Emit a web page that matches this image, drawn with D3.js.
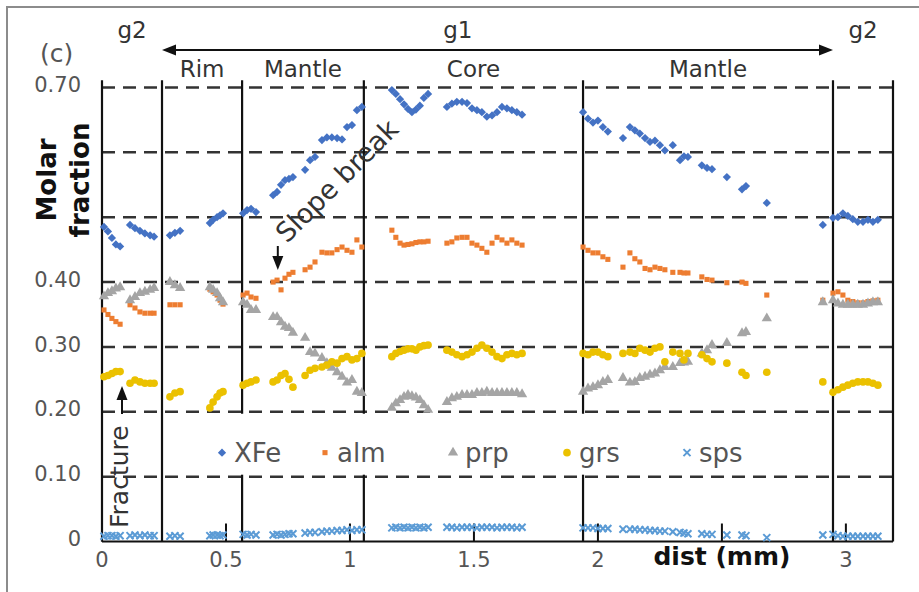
<!DOCTYPE html>
<html>
<head>
<meta charset="utf-8">
<script src="https://cdn.jsdelivr.net/npm/d3@7"></script>
<style>
body { margin: 0; background: #fff; }
text { font-family: "DejaVu Sans", sans-serif; }
</style>
</head>
<body>
<div id="chart"></div>
<script>
// ---- data (distance in mm, molar fractions) ----
var dist = [0.008, 0.024, 0.040, 0.056, 0.073, 0.113, 0.133, 0.153, 0.173, 0.194, 0.210,
    0.274, 0.294, 0.315, 0.435, 0.448, 0.464, 0.476, 0.488,
    0.569, 0.585, 0.601, 0.621,
    0.690, 0.706, 0.722, 0.738, 0.754, 0.770,
    0.819, 0.839, 0.859, 0.887, 0.907, 0.927, 0.948, 0.968, 0.988, 1.008, 1.028, 1.048,
    1.169, 1.185, 1.202, 1.218, 1.234, 1.250, 1.266, 1.282, 1.298, 1.315,
    1.391, 1.411, 1.431, 1.452, 1.472, 1.492, 1.512, 1.532, 1.552, 1.573, 1.593, 1.613, 1.633, 1.653, 1.673, 1.694,
    1.940, 1.960, 1.980, 2.000, 2.020, 2.040, 2.101, 2.129, 2.149, 2.169, 2.190, 2.210, 2.230, 2.250, 2.270, 2.302, 2.331, 2.347, 2.363, 2.419, 2.440, 2.460, 2.520, 2.581, 2.597, 2.681,
    2.907, 2.948, 2.968, 2.988, 3.008, 3.028, 3.048, 3.069, 3.089, 3.109, 3.129];

var xfe = [0.485, 0.478, 0.468, 0.458, 0.455, 0.488, 0.483, 0.479, 0.475, 0.472, 0.470,
    0.472, 0.476, 0.479, 0.491, 0.496, 0.500, 0.503, 0.506,
    0.506, 0.511, 0.513, 0.508,
    0.534, 0.539, 0.550, 0.557, 0.559, 0.562,
    0.573, 0.588, 0.593, 0.619, 0.623, 0.623, 0.622, 0.620, 0.639, 0.642, 0.665, 0.670,
    0.696, 0.690, 0.682, 0.674, 0.667, 0.662, 0.666, 0.672, 0.684, 0.690,
    0.670, 0.675, 0.678, 0.678, 0.676, 0.668, 0.665, 0.662, 0.655, 0.657, 0.662, 0.670, 0.668, 0.665, 0.662, 0.658,
    0.662, 0.652, 0.646, 0.649, 0.639, 0.632, 0.622, 0.639, 0.634, 0.629, 0.622, 0.616, 0.618, 0.611, 0.603, 0.611, 0.588, 0.594, 0.593, 0.580, 0.576, 0.574, 0.562, 0.543, 0.548, 0.522,
    0.488, 0.499, 0.500, 0.506, 0.502, 0.497, 0.493, 0.493, 0.496, 0.493, 0.496];

var alm = [0.357, 0.350, 0.344, 0.339, 0.335, 0.365, 0.360, 0.354, 0.352, 0.352, 0.352,
    0.365, 0.365, 0.365, 0.389, 0.385, 0.380, 0.372, 0.366,
    0.380, 0.383, 0.377, 0.375,
    0.400, 0.403, 0.388, 0.406, 0.412, 0.415,
    0.419, 0.423, 0.431, 0.446, 0.445, 0.445, 0.450, 0.454, 0.449, 0.446, 0.465, 0.454,
    0.480, 0.469, 0.460, 0.457, 0.458, 0.459, 0.461, 0.462, 0.462, 0.463,
    0.460, 0.462, 0.468, 0.469, 0.469, 0.460, 0.457, 0.452, 0.446, 0.460, 0.469, 0.465, 0.460, 0.465, 0.460, 0.457,
    0.454, 0.449, 0.445, 0.445, 0.439, 0.435, 0.423, 0.445, 0.436, 0.431, 0.421, 0.419, 0.423, 0.421, 0.419, 0.415, 0.415, 0.414, 0.414, 0.408, 0.404, 0.403, 0.399, 0.400, 0.398, 0.380,
    0.372, 0.383, 0.385, 0.380, 0.372, 0.370, 0.368, 0.368, 0.370, 0.371, 0.372];

var prp = [0.378, 0.383, 0.386, 0.390, 0.392, 0.372, 0.377, 0.383, 0.385, 0.388, 0.391,
    0.400, 0.395, 0.391, 0.392, 0.388, 0.383, 0.375, 0.369,
    0.369, 0.365, 0.357, 0.357,
    0.346, 0.346, 0.338, 0.331, 0.329, 0.322,
    0.314, 0.292, 0.290, 0.283, 0.275, 0.268, 0.261, 0.254, 0.245, 0.249, 0.231, 0.229,
    0.206, 0.213, 0.218, 0.223, 0.226, 0.224, 0.222, 0.218, 0.210, 0.203,
    0.215, 0.221, 0.223, 0.226, 0.226, 0.226, 0.229, 0.229, 0.231, 0.229, 0.229, 0.229, 0.229, 0.229, 0.229, 0.227,
    0.231, 0.236, 0.238, 0.241, 0.246, 0.249, 0.252, 0.245, 0.246, 0.252, 0.254, 0.257, 0.259, 0.264, 0.269, 0.269, 0.275, 0.276, 0.277, 0.290, 0.295, 0.303, 0.306, 0.321, 0.323, 0.344,
    0.369, 0.372, 0.367, 0.365, 0.365, 0.365, 0.365, 0.365, 0.367, 0.369, 0.369];

var grs = [0.254, 0.256, 0.259, 0.262, 0.262, 0.244, 0.249, 0.246, 0.244, 0.244, 0.244,
    0.223, 0.229, 0.231, 0.206, 0.215, 0.223, 0.229, 0.231,
    0.241, 0.244, 0.246, 0.249,
    0.246, 0.249, 0.256, 0.259, 0.250, 0.238,
    0.256, 0.264, 0.267, 0.269, 0.272, 0.277, 0.275, 0.282, 0.285, 0.280, 0.282, 0.290,
    0.285, 0.290, 0.293, 0.295, 0.297, 0.297, 0.295, 0.300, 0.302, 0.303,
    0.295, 0.292, 0.288, 0.285, 0.288, 0.292, 0.298, 0.303, 0.298, 0.292, 0.285, 0.282, 0.288, 0.290, 0.288, 0.290,
    0.290, 0.288, 0.292, 0.292, 0.288, 0.285, 0.290, 0.292, 0.290, 0.298, 0.295, 0.292, 0.298, 0.300, 0.277, 0.292, 0.290, 0.280, 0.290, 0.288, 0.282, 0.277, 0.275, 0.261, 0.256, 0.261,
    0.246, 0.230, 0.234, 0.238, 0.241, 0.244, 0.246, 0.246, 0.246, 0.244, 0.241];

var sps = [0.008, 0.009, 0.009, 0.008, 0.009, 0.009, 0.010, 0.009, 0.010, 0.009, 0.009,
    0.008, 0.009, 0.008, 0.009, 0.010, 0.010, 0.009, 0.010,
    0.011, 0.010, 0.011, 0.010,
    0.010, 0.011, 0.010, 0.011, 0.012, 0.012,
    0.013, 0.014, 0.014, 0.015, 0.016, 0.016, 0.017, 0.017, 0.018, 0.017, 0.018, 0.018,
    0.021, 0.022, 0.021, 0.022, 0.021, 0.022, 0.021, 0.022, 0.021, 0.022,
    0.022, 0.022, 0.021, 0.022, 0.022, 0.022, 0.021, 0.022, 0.022, 0.022, 0.021, 0.022, 0.022, 0.022, 0.021, 0.022,
    0.021, 0.021, 0.021, 0.020, 0.020, 0.020, 0.019, 0.019, 0.019, 0.018, 0.018, 0.017, 0.017, 0.016, 0.016, 0.015, 0.014, 0.013, 0.012, 0.012, 0.011, 0.011, 0.010, 0.010, 0.009, 0.006,
    0.010, 0.011, 0.009, 0.008, 0.008, 0.008, 0.008, 0.008, 0.008, 0.008, 0.008];

// zone boundaries (mm) and labels
var boundaries = [0.242, 0.565, 1.056, 1.940, 2.948, 3.19];
var zones = ["Rim", "Mantle", "Core", "Mantle"];
var yTickValues = [0.1, 0.2, 0.3, 0.4, 0.5, 0.6, 0.7];
var yTickLabels = [0, 0.1, 0.2, 0.3, 0.4, 0.7];
var xTickValues = [0, 0.5, 1, 1.5, 2, 2.5, 3];
var xTickLabels = [0, 0.5, 1, 1.5, 2, 3];

var svg = d3.select("#chart").append("svg")
    .attr("width", 919).attr("height", 592);

// figure frame (top + left only)
svg.append("path")
    .attr("d", "M7,592V7H919")
    .attr("fill", "none").attr("stroke", "#8c8c8c").attr("stroke-width", 2);

var x = d3.scaleLinear().domain([0, 3.19]).range([102, 893]);
var y = d3.scaleLinear().domain([0, 0.7]).range([541.5, 87.5]);
var yTop = y(0.711);

// dashed grid
svg.append("g").selectAll("line")
    .data(yTickValues)
    .enter().append("line")
    .attr("x1", x(0)).attr("x2", x(3.19))
    .attr("y1", function(d) { return y(d); })
    .attr("y2", function(d) { return y(d); })
    .attr("stroke", "#333").attr("stroke-width", 2.5)
    .attr("stroke-dasharray", "13,8");

// zone boundaries
svg.append("g").selectAll("line")
    .data(boundaries)
    .enter().append("line")
    .attr("x1", function(d) { return x(d); })
    .attr("x2", function(d) { return x(d); })
    .attr("y1", y(0)).attr("y2", yTop)
    .attr("stroke", "#111").attr("stroke-width", 2.2);

// axes lines
svg.append("line")
    .attr("x1", x(0)).attr("x2", x(0)).attr("y1", y(0)).attr("y2", yTop)
    .attr("stroke", "#111").attr("stroke-width", 2.2);
svg.append("line")
    .attr("x1", x(0)).attr("x2", x(3.19)).attr("y1", y(0)).attr("y2", y(0))
    .attr("stroke", "#111").attr("stroke-width", 2.2);

svg.append("g").selectAll("line")
    .data(xTickValues)
    .enter().append("line")
    .attr("x1", function(d) { return x(d); })
    .attr("x2", function(d) { return x(d); })
    .attr("y1", y(0)).attr("y2", y(0) - 18)
    .attr("stroke", "#111").attr("stroke-width", 2);

// tick labels
svg.append("g").selectAll("text")
    .data(yTickLabels)
    .enter().append("text")
    .attr("x", 81)
    .attr("y", function(d) { return y(d); })
    .attr("dy", "0.22em")
    .attr("text-anchor", "end")
    .attr("font-size", 21)
    .attr("fill", "#555")
    .text(function(d) { return d === 0 ? "0" : d.toFixed(2); });

svg.append("g").selectAll("text")
    .data(xTickLabels)
    .enter().append("text")
    .attr("x", function(d) { return x(d); })
    .attr("y", 567)
    .attr("text-anchor", "middle")
    .attr("font-size", 21)
    .attr("fill", "#555")
    .text(function(d) { return d; });

svg.append("text")
    .attr("x", x(2.5)).attr("y", 565)
    .attr("text-anchor", "middle")
    .attr("font-size", 25).attr("font-weight", "bold")
    .attr("fill", "#111")
    .text("dist (mm)");

svg.append("text")
    .attr("transform", "translate(56,180) rotate(-90)")
    .attr("text-anchor", "middle")
    .attr("font-size", 26).attr("font-weight", "bold")
    .attr("fill", "#111")
    .text("Molar");
svg.append("text")
    .attr("transform", "translate(89,180) rotate(-90)")
    .attr("text-anchor", "middle")
    .attr("font-size", 26).attr("font-weight", "bold")
    .attr("fill", "#111")
    .text("fraction");

// legend box (white, hides the boundary lines)
svg.append("rect")
    .attr("x", 172).attr("y", y(0.197))
    .attr("width", 650).attr("height", y(0.103) - y(0.197))
    .attr("fill", "#fff");

// series
var series = [
    {name: "XFe", values: xfe, color: "#4472C4", type: "diamond", lx: 222},
    {name: "alm", values: alm, color: "#ED7D31", type: "square", lx: 325},
    {name: "prp", values: prp, color: "#A5A5A5", type: "triangle", lx: 453},
    {name: "grs", values: grs, color: "#EBC100", type: "circle", lx: 567},
    {name: "sps", values: sps, color: "#5B9BD5", type: "times", lx: 687}
];

function symbolPath(type) {
    if (type === "diamond") return d3.symbol(d3.symbolSquare, 34)();
    if (type === "square") return d3.symbol(d3.symbolSquare, 26)();
    if (type === "triangle") return d3.symbol(d3.symbolTriangle, 46)();
    if (type === "circle") return d3.symbol(d3.symbolCircle, 46)();
    return d3.symbol(d3.symbolTimes, 34)();
}

function markerAttrs(sel, s) {
    sel.attr("d", symbolPath(s.type));
    if (s.type === "times") {
        sel.attr("fill", "none").attr("stroke", s.color).attr("stroke-width", 2);
    } else {
        sel.attr("fill", s.color);
    }
}

series.forEach(function(s) {
    var pts = svg.append("g").attr("class", "series")
        .selectAll("path")
        .data(dist.map(function(d, i) { return {x: d, y: s.values[i]}; }))
        .enter().append("path")
        .attr("transform", function(d) {
            return "translate(" + x(d.x) + "," + y(d.y) + ")" + (s.type === "diamond" ? " rotate(45)" : "");
        });
    markerAttrs(pts, s);
});

// legend entries
var legend = svg.selectAll(".legend")
    .data(series)
    .enter().append("g")
    .attr("class", "legend")
    .attr("transform", function(d) { return "translate(" + d.lx + "," + y(0.137) + ")"; });

legend.each(function(s) {
    var p = d3.select(this).append("path")
        .attr("transform", s.type === "diamond" ? "rotate(45)" : null);
    markerAttrs(p, s);
});

legend.append("text")
    .attr("x", 12).attr("y", 0)
    .attr("dy", "0.35em")
    .attr("font-size", 26)
    .attr("fill", "#555")
    .text(function(d) { return d.name; });

// top annotations
svg.append("text").attr("x", 40).attr("y", 62)
    .attr("font-size", 25).attr("fill", "#555").text("(c)");

svg.append("text").attr("x", x((0 + boundaries[0]) / 2)).attr("y", 38)
    .attr("text-anchor", "middle").attr("font-size", 23).attr("fill", "#333").text("g2");
svg.append("text").attr("x", x(1.435)).attr("y", 38)
    .attr("text-anchor", "middle").attr("font-size", 23).attr("fill", "#333").text("g1");
svg.append("text").attr("x", x((boundaries[4] + boundaries[5]) / 2)).attr("y", 38)
    .attr("text-anchor", "middle").attr("font-size", 23).attr("fill", "#333").text("g2");

svg.append("g").selectAll("text")
    .data(zones)
    .enter().append("text")
    .attr("x", function(d, i) { return x((boundaries[i] + boundaries[i + 1]) / 2); })
    .attr("y", 77)
    .attr("text-anchor", "middle")
    .attr("font-size", 23)
    .attr("fill", "#333")
    .text(function(d) { return d; });

function arrowHead(tx, ty, angle) {
    svg.append("path")
        .attr("d", "M0,0L-14,-5.5L-14,5.5Z")
        .attr("transform", "translate(" + tx + "," + ty + ") rotate(" + angle + ")")
        .attr("fill", "#111");
}

// g1 double arrow
var ax0 = x(boundaries[0]), ax1 = x(boundaries[4]);
svg.append("line")
    .attr("x1", ax0 + 8).attr("x2", ax1 - 8).attr("y1", 50).attr("y2", 50)
    .attr("stroke", "#111").attr("stroke-width", 2);
arrowHead(ax0, 50, 180);
arrowHead(ax1, 50, 0);

// slope break
svg.append("text")
    .attr("transform", "translate(287,244) rotate(-45)")
    .attr("font-size", 27).attr("fill", "#333")
    .text("Slope break");
svg.append("line")
    .attr("x1", x(0.709)).attr("x2", x(0.709)).attr("y1", 246).attr("y2", 262)
    .attr("stroke", "#111").attr("stroke-width", 2);
arrowHead(x(0.709), 270, 90);

// fracture
svg.append("text")
    .attr("transform", "translate(128,528) rotate(-90)")
    .attr("font-size", 25).attr("fill", "#333")
    .text("Fracture");
svg.append("line")
    .attr("x1", 122).attr("x2", 122).attr("y1", 414).attr("y2", 395)
    .attr("stroke", "#111").attr("stroke-width", 2);
arrowHead(122, 386, -90);
</script>
</body>
</html>
